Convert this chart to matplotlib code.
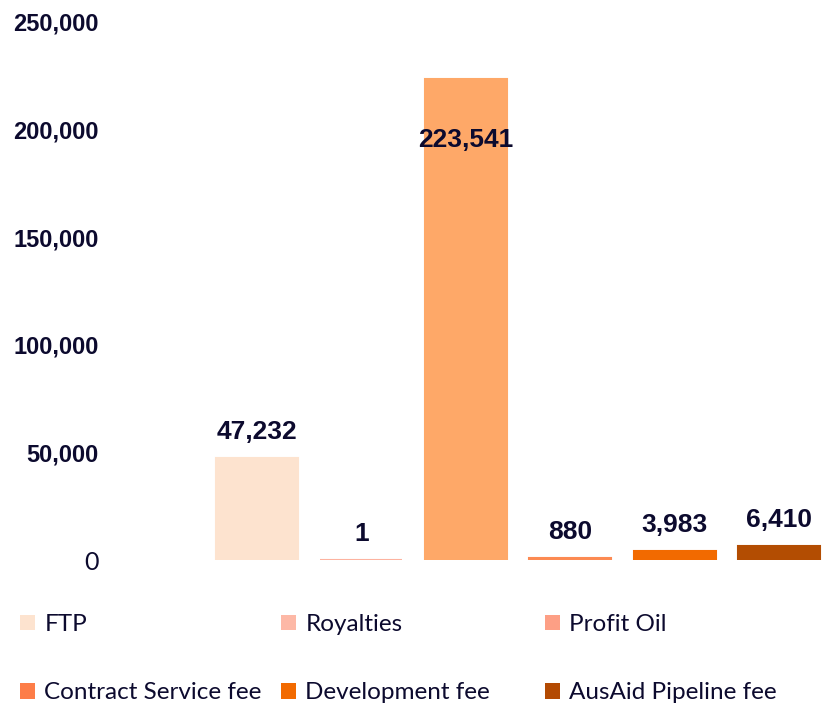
# Revenue breakdown bar chart with data labels and a two-row legend underneath
import matplotlib
matplotlib.use("Agg")
import matplotlib.pyplot as plt
from matplotlib.patches import Patch
from matplotlib.ticker import FuncFormatter

categories = ["FTP", "Royalties", "Profit Oil", "Contract Service fee",
              "Development fee", "AusAid Pipeline fee"]
values = [47232, 1, 223541, 880, 3983, 6410]
bar_colors = ["#fde3cf", "#fdb3a0", "#fea868", "#fc8a52", "#f26a00", "#b34d02"]
legend_colors = ["#fde3cf", "#fdb8a6", "#fd9f85", "#fd7d48", "#f26a00", "#b34a02"]
y_ticks = [0, 50000, 100000, 150000, 200000, 250000]

NAVY = "#0c0a2e"

fig = plt.figure(figsize=(8.22, 7.05), dpi=100)
W, H = 822, 705
# axes: left at 110px, right at 822px, zero at y=560px, 250k at y=22px
ax = fig.add_axes([110 / W, (H - 560) / H, (822 - 110) / W, (560 - 22) / H])

x = list(range(len(categories)))
bars = ax.bar(x, values, width=0.785, color=bar_colors,
              edgecolor=bar_colors, linewidth=1.5)

ax.set_xlim(-1.408, 5.41)
ax.set_ylim(0, 250000)
ax.set_yticks(y_ticks)
ax.yaxis.set_major_formatter(FuncFormatter(lambda v, p: f"{int(v):,}"))
ax.tick_params(axis="y", length=0, pad=8, labelsize=17, labelcolor=NAVY)
for lbl in ax.get_yticklabels():
    lbl.set_fontfamily("Liberation Sans")
    lbl.set_fontweight("bold")
# the zero label is plain in the original
zero = ax.get_yticklabels()[0]
zero.set_fontweight("normal")
zero.set_fontfamily("Lato")
zero.set_fontsize(18)
ax.set_xticks([])
for s in ax.spines.values():
    s.set_visible(False)

# data labels
for rect, v in zip(bars, values):
    cx = rect.get_x() + rect.get_width() / 2
    dy = -44 if v > 200000 else 19
    ax.annotate(f"{v:,}", (cx, v), xytext=(0, dy), textcoords="offset points",
                ha="center", va="center", fontsize=19, fontweight="bold",
                color=NAVY, family="Liberation Sans", annotation_clip=False)

# legend: three columns, two rows
col_x = [20, 281, 545]
for j in range(3):
    idx = [j, j + 3]
    leg = fig.legend([Patch(facecolor=legend_colors[i], edgecolor="none") for i in idx],
                     [categories[i] for i in idx],
                     loc="upper left", bbox_to_anchor=(col_x[j] / W, 1 - 614 / H),
                     frameon=False, borderpad=0, borderaxespad=0,
                     handlelength=0.6, handleheight=0.6, handletextpad=0.4,
                     labelspacing=1.95, prop={"family": "Lato", "size": 17.5})
    for t in leg.get_texts():
        t.set_color(NAVY)

fig.savefig("out.png", dpi=100)
